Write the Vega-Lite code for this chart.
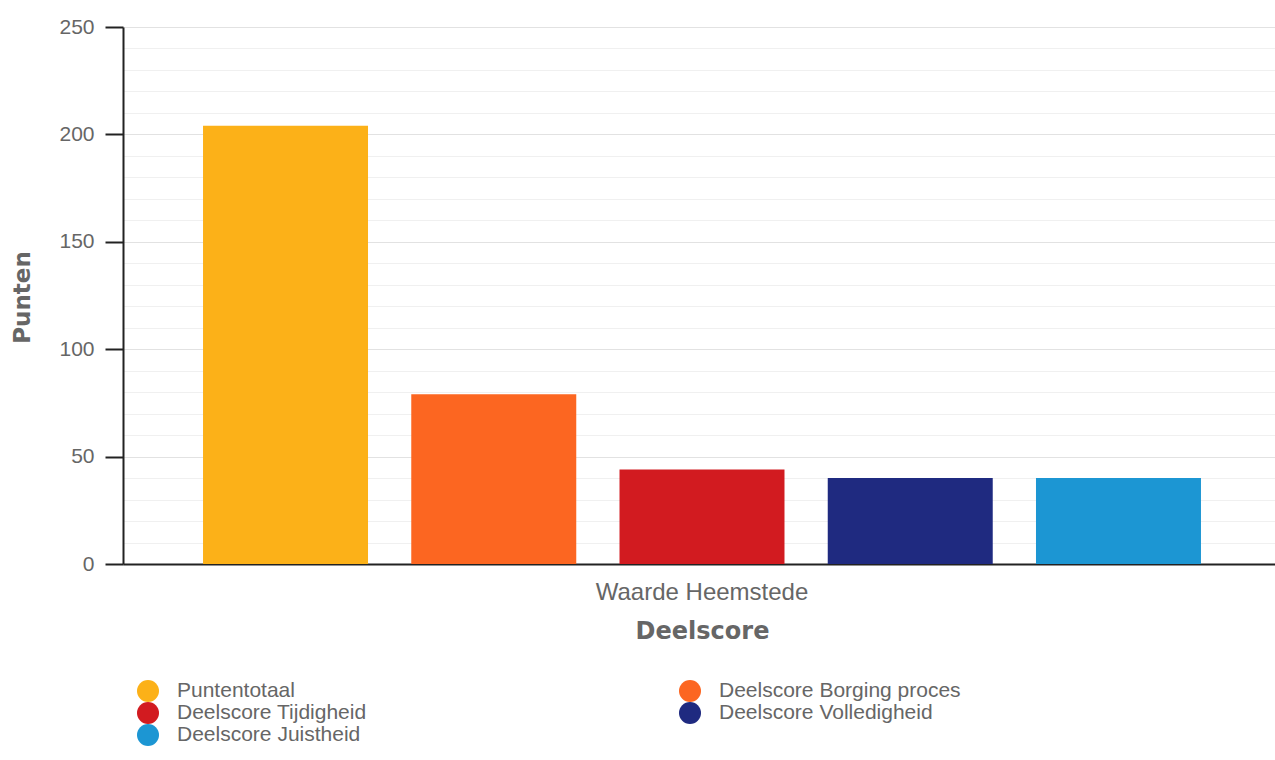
{
  "$schema": "https://vega.github.io/schema/vega-lite/v6.json",
  "width": 1158,
  "height": 537,
  "autosize": {"type": "none"},
  "padding": {"left": 123, "top": 27, "right": 0, "bottom": 196},
  "background": "white",
  "config": {"view": {"stroke": null}, "font": "Liberation Sans"},
  "data": {
    "values": [
      {"group": "Waarde Heemstede", "series": "Puntentotaal", "value": 204},
      {"group": "Waarde Heemstede", "series": "Deelscore Borging proces", "value": 79},
      {"group": "Waarde Heemstede", "series": "Deelscore Tijdigheid", "value": 44},
      {"group": "Waarde Heemstede", "series": "Deelscore Volledigheid", "value": 40},
      {"group": "Waarde Heemstede", "series": "Deelscore Juistheid", "value": 40}
    ]
  },
  "mark": {"type": "bar"},
  "encoding": {
    "x": {
      "field": "group",
      "type": "nominal",
      "title": "Deelscore",
      "scale": {"paddingInner": 0, "paddingOuter": 0.0561},
      "axis": {
        "labelAngle": 0,
        "ticks": false,
        "domainColor": "#222",
        "domainWidth": 2,
        "labelFontSize": 24,
        "labelLimit": 600,
        "labelColor": "#666",
        "labelPadding": 16,
        "titleFont": "DejaVu Sans",
        "titleFontSize": 24,
        "titleColor": "#666",
        "titleFontWeight": "bold",
        "titlePadding": 15
      }
    },
    "xOffset": {
      "field": "series",
      "type": "nominal",
      "sort": ["Puntentotaal", "Deelscore Borging proces", "Deelscore Tijdigheid", "Deelscore Volledigheid", "Deelscore Juistheid"],
      "scale": {"paddingInner": 0.2077, "paddingOuter": 0.1038}
    },
    "y": {
      "field": "value",
      "type": "quantitative",
      "title": "Punten",
      "scale": {"domain": [0, 250], "nice": false},
      "axis": {
        "values": [0, 10, 20, 30, 40, 50, 60, 70, 80, 90, 100, 110, 120, 130, 140, 150, 160, 170, 180, 190, 200, 210, 220, 230, 240, 250],
        "labelExpr": "datum.value % 50 === 0 ? datum.label : ''",
        "tickSize": 18,
        "tickWidth": 2,
        "tickColor": "#222",
        "tickOpacity": {"condition": {"test": "datum.value % 50 === 0", "value": 1}, "value": 0},
        "gridColor": {"condition": {"test": "datum.value % 50 === 0", "value": "#e2e2e2"}, "value": "#f0f0f0"},
        "domainColor": "#222",
        "domainWidth": 2,
        "labelFontSize": 21,
        "labelColor": "#666",
        "labelPadding": 11,
        "titleFont": "DejaVu Sans",
        "titleFontSize": 23,
        "titleColor": "#666",
        "titleFontWeight": "bold",
        "titleAngle": 270,
        "titleX": -101,
        "titleY": 270,
        "titleBaseline": "middle",
        "titleAlign": "center"
      }
    },
    "color": {
      "field": "series",
      "type": "nominal",
      "sort": ["Puntentotaal", "Deelscore Tijdigheid", "Deelscore Juistheid", "Deelscore Borging proces", "Deelscore Volledigheid"],
      "scale": {
        "domain": ["Puntentotaal", "Deelscore Tijdigheid", "Deelscore Juistheid", "Deelscore Borging proces", "Deelscore Volledigheid"],
        "range": ["#FCB118", "#D21B20", "#1C96D3", "#FC6621", "#1F2A80"]
      },
      "legend": {
        "orient": "none",
        "legendX": 14,
        "legendY": 653,
        "columns": 2,
        "columnPadding": 312,
        "symbolType": "circle",
        "symbolSize": 484,
        "symbolStrokeWidth": 0,
        "symbolOpacity": 1,
        "labelFontSize": 21,
        "labelColor": "#666",
        "labelOffset": 18,
        "labelLimit": 400,
        "rowPadding": 0,
        "title": null
      }
    }
  }
}
